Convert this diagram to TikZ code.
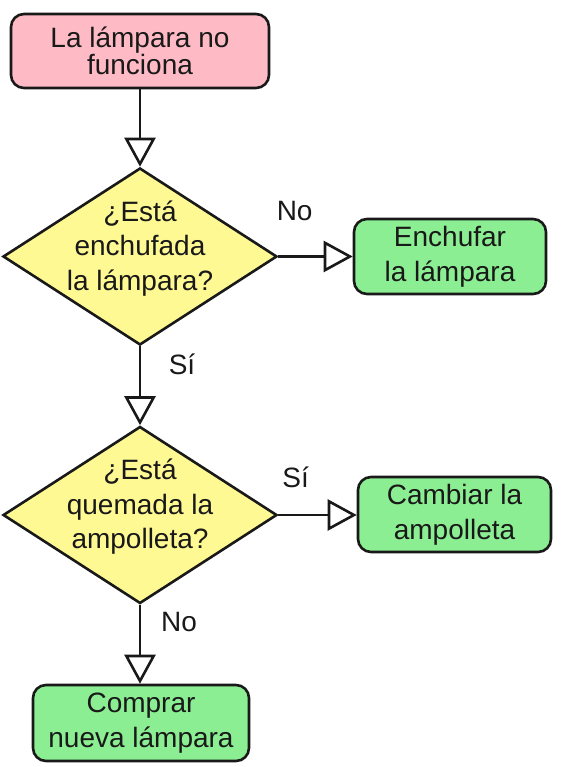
\documentclass[tikz,border=0pt]{standalone}
\usepackage{fontspec}
\setmainfont{Liberation Sans}
\usetikzlibrary{arrows.meta,shapes.geometric}
\definecolor{pinkfill}{RGB}{255,187,197}
\definecolor{yellowfill}{RGB}{255,249,148}
\definecolor{greenfill}{RGB}{140,238,146}
\definecolor{ink}{RGB}{25,25,25}
\begin{document}
\begin{tikzpicture}[x=1pt,y=-1pt,
  box/.style={draw=ink, line width=2.6pt, rounded corners=13pt, align=center, inner sep=0pt,
    text=ink, font=\fontsize{28pt}{35pt}\selectfont},
  startbox/.style={box, fill=pinkfill, font=\fontsize{28pt}{27pt}\selectfont},
  actbox/.style={box, fill=greenfill},
  decision/.style={draw=ink, line width=2.6pt, diamond, fill=yellowfill, inner sep=0pt,
    minimum width=274pt, minimum height=177pt},
  dtext/.style={align=center, inner sep=0pt, text=ink, font=\fontsize{28pt}{34.5pt}\selectfont},
  lbl/.style={anchor=base, inner sep=0pt, text=ink, font=\fontsize{28pt}{34pt}\selectfont},
  flow/.style={draw=ink, line width=2.6pt, -{Triangle[length=29pt,width=31pt,fill=white]}}
]
\useasboundingbox (0,0) rectangle (563,767);

\node[startbox, minimum width=258pt, minimum height=74pt] (t) at (140,51) {La lámpara no\\funciona};
\node[decision] (d1) at (140,256.5) {};
\node[dtext] (d1t) at ([yshift=8pt]d1.center) {¿Está\\enchufada\\la lámpara?};
\node[actbox, minimum width=192pt, minimum height=75pt] (g1) at (450,256.5) {Enchufar\\la lámpara};
\node[decision] (d2) at (140,515) {};
\node[dtext] (d2t) at ([yshift=8pt]d2.center) {¿Está\\quemada la\\ampolleta?};
\node[actbox, minimum width=193pt, minimum height=75pt] (g2) at (454.5,514.5) {Cambiar la\\ampolleta};
\node[actbox, minimum width=216pt, minimum height=76pt] (b3) at (141,723) {Comprar\\nueva lámpara};

\draw[flow] (t.south) -- (d1.north);
\draw[flow] (d1.east) -- node[lbl, pos=0.22, yshift=35.5pt] (l1) {No} (d1.east -| g1.west);
\draw[flow] (d1.south) -- node[lbl, pos=0.36, xshift=42pt] (l2) {Sí} (d2.north);
\draw[flow] (d2.east) -- node[lbl, pos=0.22, yshift=28pt] (l3) {Sí} (d2.east -| g2.west);
\draw[flow] (d2.south) -- node[lbl, pos=0.34, xshift=39pt] (l4) {No} (d2.south |- b3.north);
\end{tikzpicture}
\end{document}
